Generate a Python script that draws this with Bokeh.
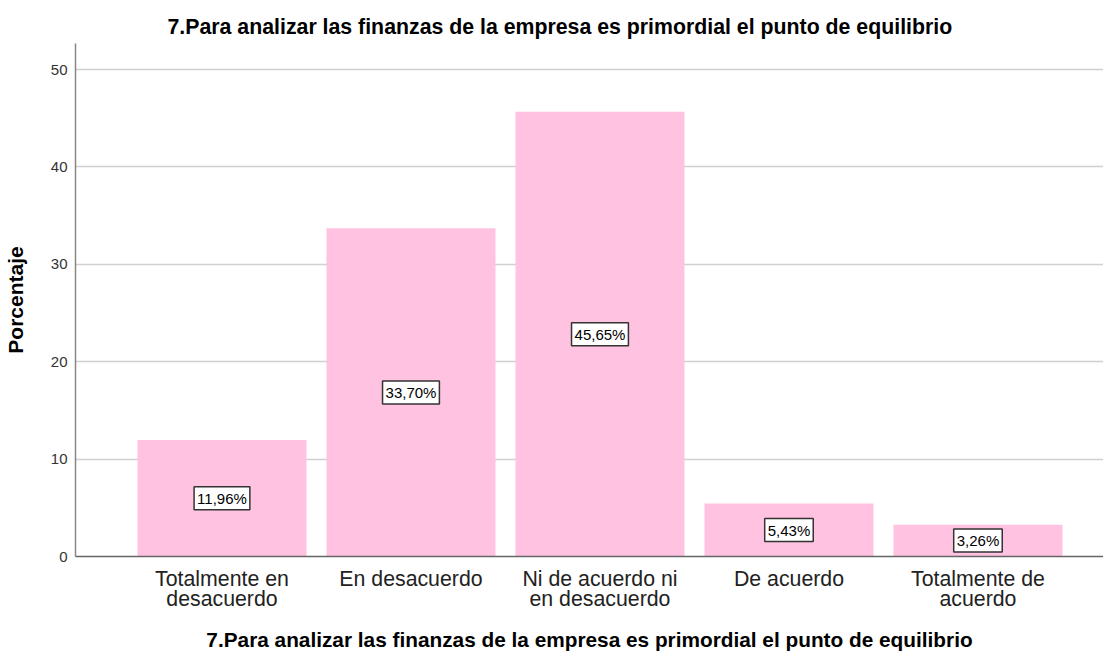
from bokeh.plotting import figure
from bokeh.models import ColumnDataSource, Range1d, FixedTicker, Title
from bokeh.core.properties import value
from bokeh.embed import file_html
from bokeh.resources import INLINE

categories = ["Totalmente en desacuerdo", "En desacuerdo", "Ni de acuerdo ni en desacuerdo",
              "De acuerdo", "Totalmente de acuerdo"]
tick_labels = ["Totalmente en\ndesacuerdo", "En desacuerdo", "Ni de acuerdo ni\nen desacuerdo",
               "De acuerdo", "Totalmente de\nacuerdo"]
values = [11.96, 33.70, 45.65, 5.43, 3.26]
value_labels = ["11,96%", "33,70%", "45,65%", "5,43%", "3,26%"]
y_ticks = [0, 10, 20, 30, 40, 50]
title_text = "7.Para analizar las finanzas de la empresa es primordial el punto de equilibrio"

xs = list(range(len(categories)))
src = ColumnDataSource(dict(x=xs, top=values, mid=[v / 2 for v in values], lab=value_labels))

FONT = "Liberation Sans"
FW = 1028

p = figure(frame_width=FW, frame_height=513, output_backend="svg", toolbar_location=None,
           x_range=Range1d(-0.775, -0.775 + FW / 189), y_range=Range1d(0, 52.67),
           min_border_left=67, min_border_right=0, min_border_top=43, min_border_bottom=0)
p.outline_line_color = None
p.background_fill_color = "white"
p.border_fill_color = "white"

p.title = Title(text=title_text, align="left", offset=92, text_font=FONT, text_font_size="21.3px",
                text_font_style="bold", text_color="#000000")

p.vbar(x="x", top="top", width=169 / 189, source=src, fill_color="#FFC2E0", line_color=None)

p.text(x="x", y="mid", text="lab", source=src, text_align="center", text_baseline="middle",
       text_font=value(FONT), text_font_size="15px", text_color="#000000",
       background_fill_color="white", border_line_color="#333333", border_line_width=1.5,
       padding=3)

p.xgrid.grid_line_color = None
p.ygrid.grid_line_color = "#d0d0d0"
p.ygrid.grid_line_width = 1.5
p.ygrid.ticker = FixedTicker(ticks=y_ticks)

p.yaxis.ticker = FixedTicker(ticks=y_ticks)
p.yaxis.axis_label = "Porcentaje"
p.yaxis.axis_label_text_font = FONT
p.yaxis.axis_label_text_font_size = "21px"
p.yaxis.axis_label_text_font_style = "bold"
p.yaxis.axis_label_text_color = "#000000"
p.yaxis.axis_label_standoff = 21
p.yaxis.major_label_text_font = FONT
p.yaxis.major_label_text_font_size = "15px"
p.yaxis.major_label_text_color = "#333333"
p.yaxis.major_tick_line_color = None
p.yaxis.minor_tick_line_color = None
p.yaxis.axis_line_color = "#888888"
p.yaxis.axis_line_width = 1.5
p.yaxis.major_label_standoff = 2

p.xaxis.ticker = FixedTicker(ticks=xs)
p.xaxis.major_label_overrides = {i: t for i, t in zip(xs, tick_labels)}
p.xaxis.major_label_text_font = FONT
p.xaxis.major_label_text_font_size = "21.3px"
p.xaxis.major_label_text_line_height = 0.85
p.xaxis.major_label_text_color = "#222222"
p.xaxis.major_tick_line_color = None
p.xaxis.minor_tick_line_color = None
p.xaxis.axis_line_color = "#666666"
p.xaxis.axis_line_width = 1.5
p.xaxis.major_label_standoff = 4
p.xaxis.axis_label = title_text
p.xaxis.axis_label_text_font = FONT
p.xaxis.axis_label_text_font_size = "20.8px"
p.xaxis.axis_label_text_font_style = "bold"
p.xaxis.axis_label_text_color = "#000000"
p.xaxis.axis_label_standoff = 14

open("out.html", "w").write(file_html(p, INLINE))
